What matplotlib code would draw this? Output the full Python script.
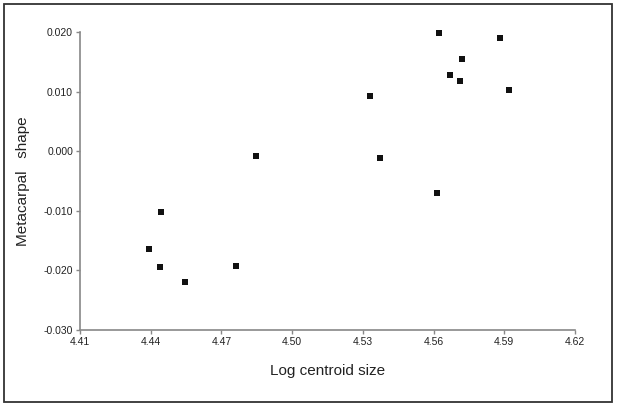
import matplotlib
matplotlib.use("Agg")
import matplotlib.pyplot as plt
from matplotlib.patches import Rectangle

log_centroid_size = [4.5624, 4.5882, 4.5722, 4.5668, 4.5711, 4.5920, 4.5330, 4.5371,
                     4.5615, 4.4847, 4.4442, 4.4394, 4.4440, 4.4545, 4.4761]
metacarpal_shape = [0.0198, 0.0190, 0.0155, 0.0128, 0.0117, 0.0102, 0.0092, -0.0011,
                    -0.0070, -0.0008, -0.0102, -0.0164, -0.0195, -0.0220, -0.0193]
x_ticks = [4.41, 4.44, 4.47, 4.50, 4.53, 4.56, 4.59, 4.62]
y_ticks = [-0.030, -0.020, -0.010, 0.000, 0.010, 0.020]

plt.rcParams['font.family'] = ['Liberation Sans', 'DejaVu Sans']

fig = plt.figure(figsize=(6.17, 4.05), dpi=100)
ax = fig.add_axes([80/617, 1-330/405, (575-80)/617, (330-32)/405])

ax.scatter(log_centroid_size, metacarpal_shape, marker='s', s=22, color='#111111',
           linewidths=0, zorder=3, clip_on=False)

ax.set_xlim(4.41, 4.62)
ax.set_ylim(-0.030, 0.020)
ax.set_xticks(x_ticks)
ax.set_xticklabels([f"{v:.2f}" for v in x_ticks])
ax.set_yticks(y_ticks)
ax.set_yticklabels([f"{v:.3f}" for v in y_ticks])

for s in ['top', 'right']:
    ax.spines[s].set_visible(False)
for s in ['left', 'bottom']:
    ax.spines[s].set_color('#888888')
    ax.spines[s].set_linewidth(1.2)
ax.tick_params(axis='both', direction='out', length=3, width=1, color='#888888',
               labelsize=7.5, labelcolor='#222222', pad=2)

ax.set_xlabel('Log centroid size', fontsize=11, color='#222222', labelpad=12)
ax.set_ylabel('Metacarpal   shape', fontsize=11, color='#222222', labelpad=10)

fig.patches.append(Rectangle((4/617, 1-402/405), (612-4)/617, (402-4)/405,
                             transform=fig.transFigure, fill=False,
                             edgecolor='#333333', linewidth=1.3))

fig.savefig('out.png', dpi=100)
